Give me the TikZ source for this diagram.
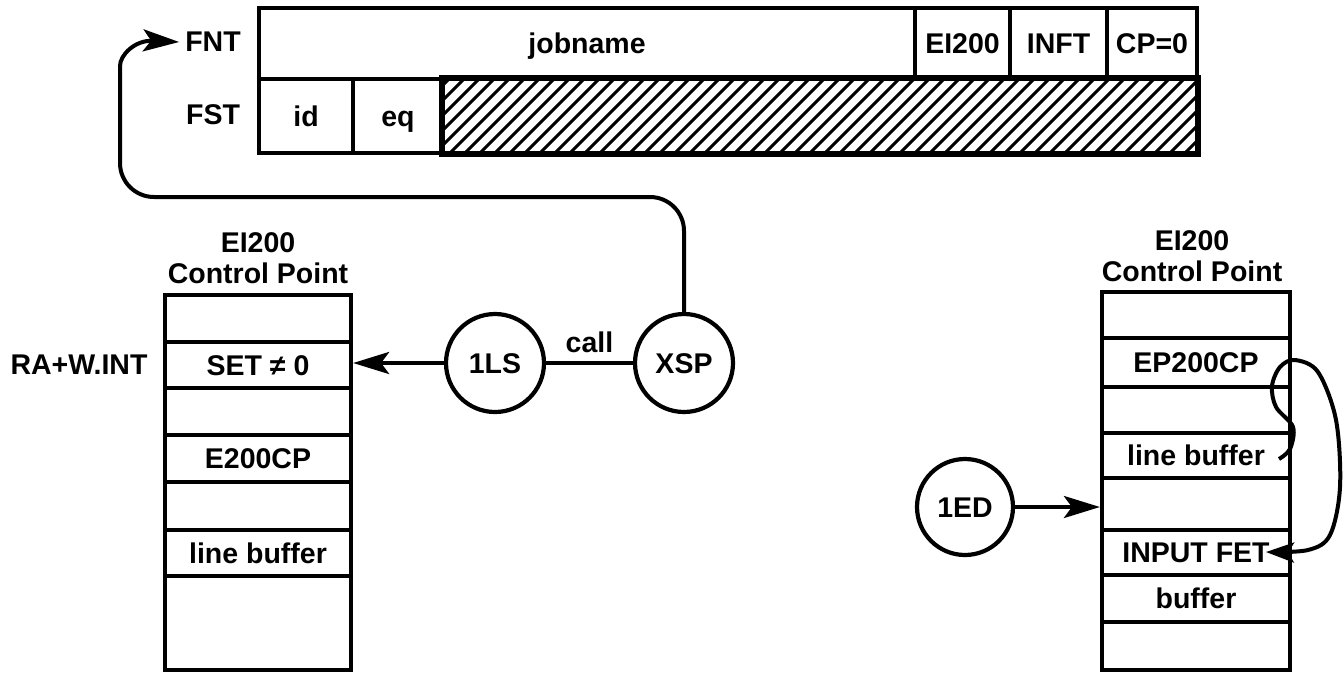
\documentclass[tikz,border=0pt]{standalone}
\usepackage{fontspec}
\setmainfont{Liberation Sans}
\usetikzlibrary{arrows.meta}
\begin{document}
\begin{tikzpicture}[x=1pt,y=-1pt,
  txt/.style={font=\fontsize{28.5}{31}\selectfont\bfseries, inner sep=0pt},
  cell/.style={draw, line width=4.2pt, inner sep=0pt, font=\fontsize{28.5}{31}\selectfont\bfseries, text height=20.4pt, text depth=0pt},
  circ/.style={circle, draw, line width=4.2pt, minimum size=98pt, inner sep=0pt, font=\fontsize{28.5}{31}\selectfont\bfseries, text height=20.4pt, text depth=0pt},
  conn/.style={line width=4pt},
  tip/.style={-{Stealth[length=36pt,width=22pt,inset=8pt]}}
]
\useasboundingbox (0,0) rectangle (1343,673);
% top table
\node[cell, minimum width=656pt, minimum height=71pt] (job) at (587,43.5) {jobname};
\node[cell, minimum width=95pt, minimum height=71pt] (ei) at (962.5,43.5) {EI200};
\node[cell, minimum width=97pt, minimum height=71pt] (inft) at (1058.5,43.5) {INFT};
\node[cell, minimum width=90pt, minimum height=71pt] (cp) at (1152,43.5) {CP=0};
\node[cell, minimum width=94pt, minimum height=74pt] (id) at (306,116) {id};
\node[cell, minimum width=90pt, minimum height=74pt] (eq) at (398,116) {eq};
\node[cell, minimum width=754pt, minimum height=74pt] (hatch) at (820,116) {};
\begin{scope}
  \clip (443,79) rectangle (1197,153);
  \foreach \x in {360,375,...,1200} {
    \draw[line width=3pt] (\x,153) -- (\x+74,79);
  }
\end{scope}
\draw[line width=4.2pt] (hatch.north west) rectangle (hatch.south east);
\node[txt] (fnt) at (213,42) {FNT};
\node[txt] (fst) at (213,115) {FST};

% left control point
\node[txt, align=center] (lt) at (258,258) {EI200\\Control Point};
\node[cell, minimum width=186pt, minimum height=47pt] (l1) at (258,318.5) {};
\node[cell, minimum width=186pt, minimum height=46pt] (l2) at (258,365) {SET ≠ 0};
\node[cell, minimum width=186pt, minimum height=47pt] (l3) at (258,411.5) {};
\node[cell, minimum width=186pt, minimum height=47pt] (l4) at (258,458.5) {E200CP};
\node[cell, minimum width=186pt, minimum height=48pt] (l5) at (258,506) {};
\node[cell, minimum width=186pt, minimum height=46pt] (l6) at (258,553) {line buffer};
\node[cell, minimum width=186pt, minimum height=94pt] (l7) at (258,623) {};
\node[txt] (ra) at (79,365) {RA+W.INT};

% circles
\node[circ] (ls) at (495,363) {1LS};
\node[circ] (xsp) at (684,363) {XSP};
\node[circ, minimum size=96pt] (ed) at (965,507) {1ED};

% right control point
\node[txt, align=center] (rt) at (1192,256) {EI200\\Control Point};
\node[cell, minimum width=188pt, minimum height=46pt] (r1) at (1196,315) {};
\node[cell, minimum width=188pt, minimum height=49pt] (r2) at (1196,362.5) {EP200CP};
\node[cell, minimum width=188pt, minimum height=46pt] (r3) at (1196,410) {};
\node[cell, minimum width=188pt, minimum height=45pt] (r4) at (1196,455.5) {line buffer};
\node[cell, minimum width=188pt, minimum height=52pt] (r5) at (1196,504) {};
\node[cell, minimum width=188pt, minimum height=45pt] (r6) at (1196,552.5) {INPUT FET};
\node[cell, minimum width=188pt, minimum height=47pt] (r7) at (1196,598.5) {buffer};
\node[cell, minimum width=188pt, minimum height=48pt] (r8) at (1196,646) {};

% connectors
\draw[conn, tip] (ls.west) -- (ls.west -| l2.east);
\draw[conn] (ls.east) -- node[txt, above=8pt] (call) {call} (xsp.west);
\draw[conn, tip, rounded corners=34pt] (xsp.north) |- (120,197) -- (120,100)
   .. controls (120,55) and (135,40) .. ([xshift=-6pt]fnt.west);
\draw[conn, tip] (ed.east) -- (ed.east -| r5.west);
\coordinate (lbout) at (1279,459);
\coordinate (fetin) at (1266,552);
\draw[conn, -{Stealth[length=28pt,width=20pt,inset=6pt]}] plot[smooth, tension=0.55] coordinates {(lbout) (1290,449) (1293,427) (1276,407) (1272,386) (1280,367) (1295,360) (1318,372) (1336,420) (1340,487) (1330,535) (1308,550) (fetin)};
\end{tikzpicture}
\end{document}
